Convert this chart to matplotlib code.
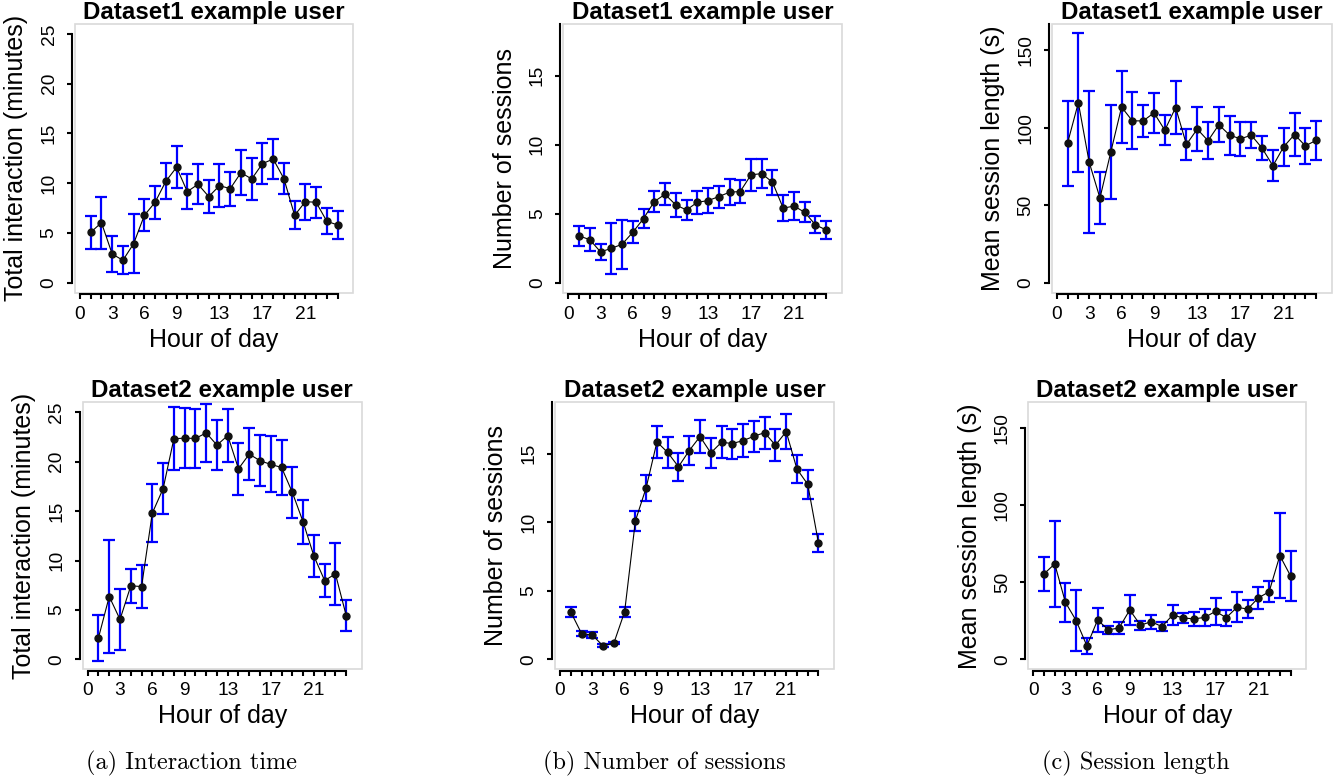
import matplotlib
matplotlib.use('Agg')
import matplotlib.pyplot as plt
from matplotlib.patches import Rectangle
import numpy as np

plt.rcParams['font.family'] = ['Liberation Sans', 'DejaVu Sans']

hours = np.arange(1, 25)
hour_labels = ['0', '', '', '3', '', '', '6', '', '', '9', '', '', '', '13',
               '', '', '', '17', '', '', '', '21', '', '', '']

# Dataset1 example user
d1_time = [5.06, 6.03, 2.88, 2.25, 3.92, 6.77, 8.08, 10.19, 11.6, 9.15, 9.89, 8.65,
           9.75, 9.45, 11.06, 10.42, 11.96, 12.43, 10.46, 6.77, 8.14, 8.08, 6.17, 5.8]
d1_time_err = [1.63, 2.6, 1.8, 1.4, 2.98, 1.6, 1.66, 1.79, 2.13, 1.78, 1.99, 1.68,
               2.15, 1.71, 2.23, 2.11, 2.08, 1.98, 1.55, 1.41, 1.8, 1.58, 1.29, 1.37]
d1_sess = [3.39, 3.12, 2.23, 2.49, 2.78, 3.65, 4.65, 5.88, 6.41, 5.64, 5.27, 5.83,
           5.95, 6.24, 6.56, 6.61, 7.82, 7.91, 7.28, 5.4, 5.56, 5.1, 4.19, 3.82]
d1_sess_err = [0.72, 0.82, 0.57, 1.84, 1.8, 0.79, 0.71, 0.76, 0.8, 0.87, 0.7, 0.82,
               0.9, 0.79, 0.96, 0.81, 1.17, 1.03, 0.92, 0.93, 0.98, 0.72, 0.62, 0.65]
d1_len = [90.0, 116.1, 77.8, 54.6, 84.2, 113.3, 104.4, 104.4, 109.6, 98.4, 113.0, 89.2,
          99.1, 91.6, 101.9, 95.2, 92.8, 95.2, 86.8, 75.4, 87.7, 95.6, 88.3, 91.8]
d1_len_err = [27.4, 44.8, 46.0, 16.7, 30.2, 23.1, 18.4, 10.3, 12.8, 9.6, 17.1, 10.1,
              14.4, 12.0, 11.4, 12.6, 11.1, 8.3, 7.8, 10.0, 12.3, 13.7, 11.5, 12.6]

# Dataset2 example user
d2_time = [2.19, 6.36, 4.04, 7.44, 7.37, 14.8, 17.26, 22.31, 22.38, 22.34, 22.91, 21.67,
           22.64, 19.28, 20.76, 20.09, 19.72, 19.41, 16.89, 13.9, 10.46, 7.97, 8.65, 4.44]
d2_time_err = [2.34, 5.75, 3.08, 1.72, 2.19, 2.91, 2.58, 3.2, 3.06, 2.96, 2.9, 2.52,
               2.64, 2.64, 2.65, 2.57, 2.83, 2.76, 2.59, 2.24, 2.12, 1.65, 3.15, 1.6]
d2_sess = [3.46, 1.89, 1.77, 0.99, 1.19, 3.48, 10.11, 12.53, 15.87, 15.1, 14.06, 15.24,
           16.26, 15.07, 15.85, 15.75, 15.97, 16.28, 16.55, 15.63, 16.62, 13.89, 12.78, 8.49]
d2_sess_err = [0.35, 0.2, 0.2, 0.1, 0.1, 0.36, 0.74, 0.96, 1.17, 1.15, 1.03, 1.09,
               1.19, 1.08, 1.17, 1.09, 1.23, 1.11, 1.16, 1.18, 1.29, 1.05, 1.05, 0.65]
d2_len = [55.5, 62.0, 37.0, 25.2, 8.8, 25.6, 19.2, 20.4, 32.1, 22.2, 24.5, 21.3,
          28.8, 26.9, 26.3, 27.3, 31.2, 27.1, 33.8, 32.7, 40.0, 43.9, 67.4, 54.2]
d2_len_err = [11.0, 27.9, 12.9, 19.7, 5.3, 7.5, 2.5, 4.0, 9.5, 2.9, 4.6, 2.7,
              6.5, 3.4, 4.7, 5.3, 8.9, 5.1, 9.8, 5.8, 7.2, 6.7, 27.8, 16.0]

ylabels = ['Total interaction (minutes)', 'Number of sessions', 'Mean session length (s)']
ymax = [25, 18.04, 160.5]
yticks = [[0, 5, 10, 15, 20, 25], [0, 5, 10, 15], [0, 50, 100, 150]]
captions = ['(a) Interaction time', '(b) Number of sessions', '(c) Session length']

W, H = 1343, 781
# plot boxes in pixels: left, top, width, height
boxes = [[(75, 24, 278, 268.6), (563.3, 24, 278.4, 268.6), (1051.7, 24, 280, 268.6)],
         [(82.7, 402.3, 279, 267), (555, 402.3, 279, 267), (1028.3, 402.3, 277.7, 267)]]
# top of the drawn y axis line
spine_tops = [[25, 18.76, 166.7], [25, 18.76, 150]]

data = [[(d1_time, d1_time_err), (d1_sess, d1_sess_err), (d1_len, d1_len_err)],
        [(d2_time, d2_time_err), (d2_sess, d2_sess_err), (d2_len, d2_len_err)]]
titles = ['Dataset1 example user', 'Dataset2 example user']

fig = plt.figure(figsize=(W / 100, H / 100), dpi=100)

for r in range(2):
    for c in range(3):
        l, t, w, h = boxes[r][c]
        ax = fig.add_axes([l / W, 1 - (t + h) / H, w / W, h / H])
        mean, err = data[r][c]
        ax.errorbar(hours, mean, yerr=err, fmt='none', ecolor='#0000ff',
                    elinewidth=1.6, capsize=4.3, capthick=1.6, zorder=2)
        ax.plot(hours, mean, color='black', lw=0.8, zorder=3)
        ax.plot(hours, mean, 'o', color='#111111', ms=5, zorder=4)

        pad_y = ymax[c] * 0.04
        ax.set_xlim(-0.465, 25.44)
        ax.set_ylim(-pad_y, ymax[c] + pad_y)

        for s in ['top', 'right']:
            ax.spines[s].set_visible(False)
        ax.spines['left'].set_position(('outward', 2.2))
        ax.spines['bottom'].set_position(('outward', 1.1))
        ax.spines['left'].set_bounds(0, spine_tops[r][c])
        ax.spines['bottom'].set_bounds(0, 24)
        ax.spines['left'].set_linewidth(1.5)
        ax.spines['bottom'].set_linewidth(1.5)
        ax.add_patch(Rectangle((0, 0), 1, 1, transform=ax.transAxes, fill=False,
                               ec='#d9d9d9', lw=1.2, clip_on=False, zorder=1))

        ax.set_xticks(range(25))
        ax.set_xticklabels(hour_labels)
        ax.set_yticks(yticks[c])
        ax.set_yticklabels([str(v) for v in yticks[c]], rotation=90, va='center')
        ax.tick_params(axis='both', width=1.5, length=3.3, labelsize=13.8)
        ax.tick_params(axis='x', pad=5)
        ax.tick_params(axis='y', pad=7)

        ax.set_title(titles[r], fontsize=17.4, fontweight='bold', pad=1.5)
        ax.set_xlabel('Hour of day', fontsize=18, va='baseline')
        ax.xaxis.set_label_coords(0.5, -54 / h)
        ax.set_ylabel(ylabels[c], fontsize=18, va='center')
        ax.yaxis.set_label_coords(-58.7 / w, 0.5)

cap_x = [191.5, 664, 1136]
for c in range(3):
    fig.text(cap_x[c] / W, 1 - 763 / H, captions[c], family='cmr10', fontsize=17.5,
             ha='center', va='center')

fig.savefig('out.png', dpi=100)
